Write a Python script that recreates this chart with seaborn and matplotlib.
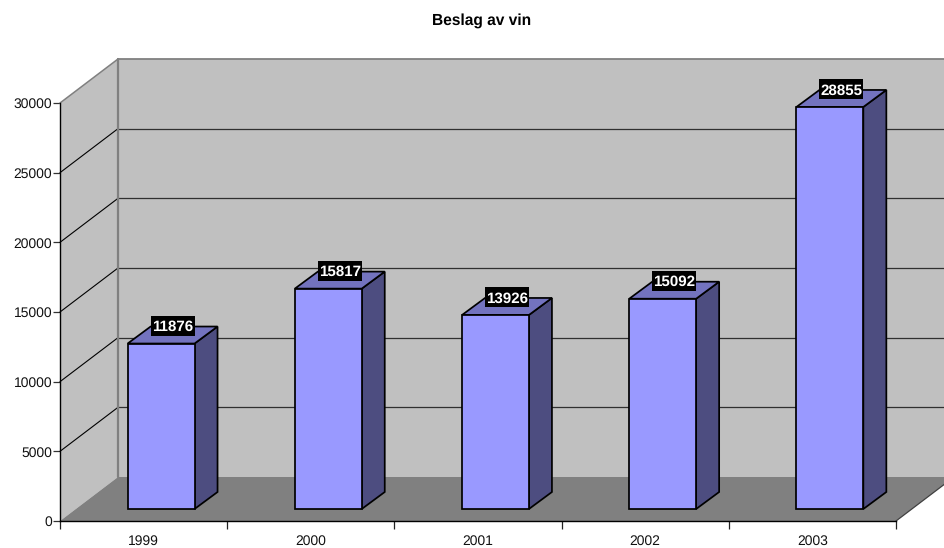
import matplotlib
matplotlib.use("Agg")
import matplotlib.pyplot as plt
from matplotlib.transforms import Affine2D
from matplotlib.ticker import FixedLocator, NullFormatter
import pandas as pd
import seaborn as sns

years = ["1999", "2000", "2001", "2002", "2003"]
values = [11876, 15817, 13926, 15092, 28855]
y_ticks = [0, 5000, 10000, 15000, 20000, 25000, 30000]
title = "Beslag av vin"

sns.set_theme(style="white")
plt.rcParams["font.family"] = ["Liberation Sans", "DejaVu Sans"]
plt.rcParams["text.hinting"] = "no_hinting"

W, H = 944, 548
fig = plt.figure(figsize=(W / 100, H / 100), dpi=100, facecolor="white")
ax = fig.add_axes([60 / W, (H - 521) / H, (896 - 60) / W, (521 - 103) / H])
ax.patch.set_visible(False)

BAR_W = 0.4
WALL = (58, 44)     # depth of the chart floor, px
SHIFT = (17.5, 12)  # bar position inside the depth, px
DEPTH = (23, 17)    # depth of one bar, px
LABEL_BOX = (44, 20)  # black label box, px
EDGE = 1.25


def moved(dx, dy):
    return ax.transData + Affine2D().translate(dx, dy)


df = pd.DataFrame({"year": years, "value": values})
sns.barplot(data=df, x="year", y="value", color="#9999FF", saturation=1,
            width=BAR_W, edgecolor="black", linewidth=EDGE, ax=ax, zorder=5)
ax.set_xlim(-0.5, len(years) - 0.5)
ax.set_ylim(0, y_ticks[-1])
ax.set_xlabel("")
ax.set_ylabel("")
xl, xr = ax.get_xlim()
ytop = y_ticks[-1]

dxw, dyw = WALL
back = moved(dxw, dyw)
xd = ax.transData
# back wall, side wall, floor
ax.fill([xl, xr, xr, xl], [0, 0, ytop, ytop], transform=back, color="#C0C0C0",
        lw=0, zorder=0, clip_on=False)
p0 = xd.transform([(xl, 0), (xl, ytop)])
ax.fill([p0[0][0], p0[1][0], p0[1][0] + dxw, p0[0][0] + dxw],
        [p0[0][1], p0[1][1], p0[1][1] + dyw, p0[0][1] + dyw],
        transform=None, color="#C0C0C0", lw=0, zorder=0.5, clip_on=False)
p_l0 = xd.transform((xl, 0))
p_r0 = xd.transform((xr, 0))
ax.fill([p_l0[0], p_r0[0], p_r0[0] + dxw, p_l0[0] + dxw],
        [p_l0[1], p_r0[1], p_r0[1] + dyw, p_l0[1] + dyw],
        transform=None, color="#808080", lw=0, zorder=1, clip_on=False)

# gridlines
for y in y_ticks[1:-1]:
    ax.plot([xl, xr], [y, y], transform=back, color="#303030", lw=0.9,
            zorder=1.5, clip_on=False)
    a = xd.transform((xl, y))
    ax.plot([a[0], a[0] + dxw], [a[1], a[1] + dyw], transform=None,
            color="black", lw=0.8, zorder=1.5, clip_on=False)

# wall edges
GR = "#808080"
a = xd.transform((xl, ytop))
ax.plot([a[0], a[0] + dxw], [a[1], a[1] + dyw], transform=None, color=GR, lw=1.1, zorder=2, clip_on=False)
ax.plot([xl, xr], [ytop, ytop], transform=back, color=GR, lw=1.3, zorder=2, clip_on=False)
ax.plot([xl, xl], [0, ytop], transform=back, color=GR, lw=1.6, zorder=2, clip_on=False)
ax.plot([p_r0[0], p_r0[0] + dxw], [p_r0[1], p_r0[1] + dyw], transform=None,
        color="#404040", lw=0.9, zorder=2, clip_on=False)

# bars in perspective
dxb, dyb = DEPTH
tr = moved(*SHIFT)
bw, bh = LABEL_BOX
for i, (bar, v) in enumerate(zip(ax.patches, values)):
    bar.set_transform(tr)
    bar.set_clip_on(False)
    bar.set_zorder(6)
    l = xd.transform((i - BAR_W / 2, 0)) + SHIFT
    r = xd.transform((i + BAR_W / 2, 0)) + SHIFT
    t = xd.transform((i, v))[1] + SHIFT[1]
    # side face
    ax.fill([r[0], r[0] + dxb, r[0] + dxb, r[0]],
            [r[1], r[1] + dyb, t + dyb, t], transform=None,
            facecolor="#4D4D80", edgecolor="black", lw=EDGE, zorder=5, clip_on=False)
    # top face
    ax.fill([l[0], r[0], r[0] + dxb, l[0] + dxb],
            [t, t, t + dyb, t + dyb], transform=None,
            facecolor="#7373BF", edgecolor="black", lw=EDGE, zorder=5, clip_on=False)
    # value label
    cx = (l[0] + r[0]) / 2 + dxb / 2
    cy = t + 17.5
    ax.fill([cx - bw / 2, cx + bw / 2, cx + bw / 2, cx - bw / 2],
            [cy - bh / 2, cy - bh / 2, cy + bh / 2, cy + bh / 2], transform=None,
            color="black", lw=0, zorder=7, clip_on=False)
    ax.text(cx, cy + 0.5, str(v), transform=None, ha="center", va="center_baseline",
            color="white", fontsize=10.9, fontweight="bold", zorder=8, clip_on=False)

# axes
for s in ["top", "right"]:
    ax.spines[s].set_visible(False)
for s in ["left", "bottom"]:
    ax.spines[s].set_color("black")
    ax.spines[s].set_linewidth(1.0)
    ax.spines[s].set_zorder(4)
ax.set_yticks(y_ticks)
ax.set_xticks(range(len(years)))
ax.set_xticklabels(years)
ax.xaxis.set_minor_locator(FixedLocator([i - 0.5 for i in range(len(years) + 1)]))
ax.xaxis.set_minor_formatter(NullFormatter())
ax.tick_params(axis="x", which="major", length=0, pad=10, labelsize=10, labelcolor="#111111")
ax.tick_params(axis="x", which="minor", length=5.5, width=0.9, color="#222222", bottom=True)
ax.tick_params(axis="y", which="major", length=5.0, width=0.9, color="#333333", pad=0.5,
               labelsize=10, labelcolor="#111111", left=True)

fig.text(481.5 / W, 1 - 21 / H, title, ha="center", va="center",
         fontsize=11.2, fontweight="bold", color="black")

fig.savefig("out.png", dpi=100, facecolor="white")
